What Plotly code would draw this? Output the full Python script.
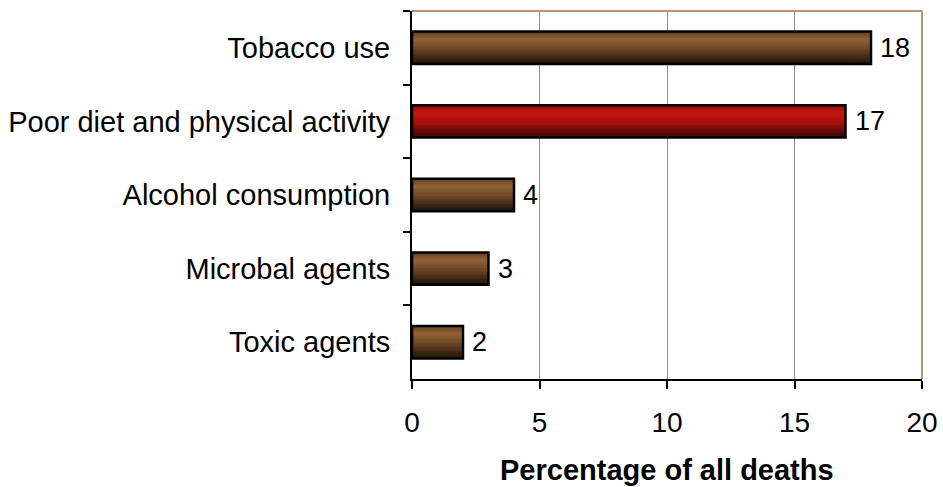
import plotly.graph_objects as go

# Risk factors and their share of all deaths (%)
categories = ["Tobacco use", "Poor diet and physical activity", "Alcohol consumption",
              "Microbal agents", "Toxic agents"]
values = [18, 17, 4, 3, 2]
highlight = [False, True, False, False, False]
x_ticks = [0, 5, 10, 15, 20]

# Vertical gradient stops (top -> bottom) for the two bar colours
brown_stops = [(0.0, (96, 60, 30)), (0.25, (146, 98, 54)), (0.55, (108, 70, 36)), (1.0, (32, 20, 8))]
red_stops = [(0.0, (136, 14, 10)), (0.25, (198, 24, 14)), (0.55, (165, 16, 10)), (1.0, (60, 6, 4))]


def lerp_color(stops, t):
    for (t0, c0), (t1, c1) in zip(stops[:-1], stops[1:]):
        if t0 <= t <= t1:
            f = (t - t0) / (t1 - t0)
            c = [round(a + (b - a) * f) for a, b in zip(c0, c1)]
            return f"rgb({c[0]},{c[1]},{c[2]})"
    c = stops[-1][1]
    return f"rgb({c[0]},{c[1]},{c[2]})"


BAR_W = 0.44
N_STRIPES = 24
stripe_w = BAR_W / N_STRIPES

fig = go.Figure()

# Gradient fill: thin overlaid bar slices from the top edge to the bottom edge
for k in range(N_STRIPES):
    t = (k + 0.5) / N_STRIPES
    colors = [lerp_color(red_stops if h else brown_stops, t) for h in highlight]
    # y axis is reversed, so a smaller offset sits nearer the top
    fig.add_trace(go.Bar(
        x=values, y=categories, orientation="h",
        width=stripe_w * 1.15, offset=-BAR_W / 2 + k * stripe_w,
        marker=dict(color=colors, line=dict(width=0)),
        hoverinfo="skip", showlegend=False,
    ))

# Black outline around each bar
fig.add_trace(go.Bar(
    x=values, y=categories, orientation="h",
    width=BAR_W, offset=-BAR_W / 2,
    marker=dict(color="rgba(0,0,0,0)", line=dict(color="black", width=2.5)),
    showlegend=False,
))

# Value labels to the right of each bar
for cat, v in zip(categories, values):
    fig.add_annotation(x=v, y=cat, text=str(v), showarrow=False,
                       xanchor="left", xshift=7,
                       font=dict(family="Liberation Sans, Arial", size=27, color="black"))

# Axis title placed near the bottom edge, under the tick labels
fig.add_annotation(xref="x domain", yref="y domain", x=0.5, y=-0.247, yanchor="middle",
                   text="<b>Percentage of all deaths</b>", showarrow=False,
                   font=dict(family="Liberation Sans, Arial", size=29, color="black"))

# Tan frame on the top and right edges of the plot area
fig.add_shape(type="line", xref="x domain", yref="y domain", x0=0, x1=1, y0=1, y1=1,
              line=dict(color="#b8946c", width=2))
fig.add_shape(type="line", xref="x domain", yref="y domain", x0=1, x1=1, y0=0, y1=1,
              line=dict(color="#b8946c", width=2))

fig.update_layout(
    width=943, height=487,
    margin=dict(l=412, r=21, t=11, b=108),
    paper_bgcolor="white", plot_bgcolor="white",
    barmode="overlay",
    font=dict(family="Liberation Sans, Arial", color="black"),
    xaxis=dict(
        range=[0, 20], tickvals=x_ticks, ticktext=[str(v) for v in x_ticks],
        showgrid=True, gridcolor="#8c8c8c", gridwidth=1, zeroline=False,
        showline=True, linecolor="black", linewidth=2,
        ticks="outside", ticklen=8, tickwidth=2, tickcolor="black",
        tickfont=dict(size=28), ticklabelstandoff=9,
        ticklabeloverflow="allow", automargin=False,
    ),
    yaxis=dict(
        categoryorder="array", categoryarray=categories, autorange="reversed",
        showgrid=False, zeroline=False,
        showline=True, linecolor="black", linewidth=2,
        ticks="outside", ticklen=7, tickwidth=1.5, tickcolor="black",
        tickson="boundaries", automargin=False,
        tickfont=dict(size=29), ticklabelstandoff=14,
    ),
)

fig.write_html("out.html")
